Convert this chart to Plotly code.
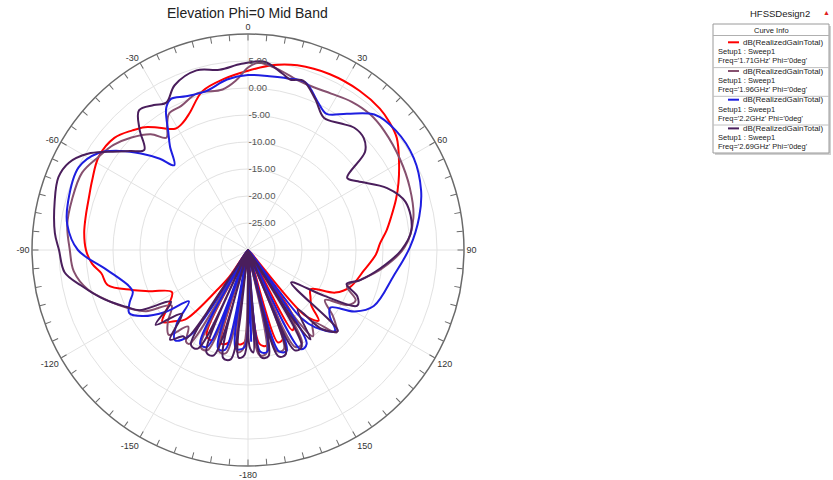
import plotly.graph_objects as go

W, H = 833, 480

title_text = "Elevation Phi=0 Mid Band"
design_name = "HFSSDesign2"

radial_tickvals = [-25, -20, -15, -10, -5, 0, 5]
radial_ticktext = ["-25.00", "-20.00", "-15.00", "-10.00", "-5.00", "0.00", "5.00"]
angle_tickvals = [0, 30, 60, 90, 120, 150, 180, 210, 240, 270, 300, 330]
angle_ticktext = ["0", "30", "60", "90", "120", "150", "-180", "-150", "-120", "-90", "-60", "-30"]
minor_tick_angles = list(range(0, 360, 5))

freq_labels = ["1.71GHz", "1.96GHz", "2.2GHz", "2.69GHz"]
quantity = "dB(RealizedGainTotal)"
setup_label = "Setup1 : Sweep1"
colors = ["#ff0000", "#86506f", "#1e1ee0", "#4a1e5c"]

theta_red = [-180, -178, -174, -170, -168, -164, -160, -158, -154, -150, -145, -143, -138, -134, -130, -125,
             -119, -113, -109, -104, -99, -95, -90, -84, -78, -72, -66, -58, -50, -44, -40, -36, -31, -27,
             -23, -16, -8, 0, 8, 15, 25, 35, 43, 48, 53, 60, 66, 71, 77, 82, 87, 92, 100, 110, 116, 122,
             127, 131, 135, 139, 143, 146, 151, 155, 158, 162, 166, 169, 173, 177, 180]
gain_red = [-30, -13, -12.5, -30, -12.5, -12, -30, -12, -12.5, -30, -24, -21.6, -12.7, -11, -9.3, -12,
            -13.9, -10.5, -7.3, -3.2, -2.5, -1, 0, 0.5, 0.7, 1, 1.6, 2.6, 2.3, 0.8, -0.3, -2, -3.8, -3.5,
            -2.4, 0.6, 2, 3.2, 4.6, 5.4, 5.9, 6.0, 5.8, 5.3, 4.5, 2.3, 0.5, -1, -2.8, -4.1, -5.5, -6.3,
            -8.2, -9.9, -12, -16.3, -15.5, -14.5, -11.5, -14, -30, -15, -13, -30, -12.5, -12, -30, -12,
            -12.5, -30, -30]

theta_mauve = [-180, -177, -174, -171, -168, -164, -161, -158, -154, -151, -148, -146, -142, -137, -132,
               -126, -121, -116, -110, -104, -97, -90, -82, -74, -65, -58, -52, -46, -40, -36, -33, -30,
               -25, -18, -9, -4, 0, 3, 9, 16, 22, 28, 35, 42, 49, 59, 69, 79, 89, 98, 105, 110, 115, 119,
               123, 128, 133, 138, 143, 145, 147, 150, 154, 157, 160, 164, 167, 170, 174, 177, 180]
gain_mauve = [-30, -11.5, -11, -30, -10.5, -10.5, -30, -10, -10, -30, -9.5, -9.5, -12, -8.5, -10, -12.5,
              -8, -5.4, -2.5, 0.5, 2.5, 3, 3.8, 3.9, 3.9, 2.6, 1.6, 0, -2, -4.3, -2.5, -0.8, -0.6, 0.5,
              0.1, 1.5, 3.8, 4.7, 4, 2.8, 2.5, 2.8, 3.5, 3.8, 3.5, 2.8, 2.1, 1.2, -1, -5, -8.5, -10.5, -8,
              -9, -13, -10, -7.6, -12, -10, -14, -30, -10, -10, -30, -10.5, -10.5, -30, -10.5, -10.5, -30,
              -30]

theta_blue = [-180, -178, -173, -169, -167, -163, -159, -157, -153, -149, -146, -141, -136, -131, -127,
              -122, -118, -114, -110, -107, -98, -90, -82, -75, -64, -57, -52, -48, -44, -41, -37, -34,
              -30, -27, -22, -15, -7, 0, 7, 13, 19, 25, 30, 36, 43, 51, 61, 71, 79, 89, 100, 114, 120, 125,
              129, 133, 139, 142, 145, 148, 152, 156, 159, 163, 166, 169, 173, 176, 178, 180]
gain_blue = [-30, -12, -11.6, -30, -11, -11, -30, -10.5, -10.5, -30, -11, -8.5, -11, -15.5, -11, -6.9,
             -5.1, -6, -7.3, -7, -3.6, 1.5, 3.8, 4.5, 4.9, 3, -0.2, -3.3, -6.5, -9.2, -6, -3.6, 0.3, 1.4,
             0.7, 0.4, 1.8, 2.4, 2.4, 2.6, 2.8, 0.4, -0.9, 1.2, 4.3, 5.2, 5.1, 3.9, 2.3, 0, -2.6, -4.5,
             -7.2, -11.4, -10.5, -8, -11, -14, -30, -9.5, -9.2, -30, -10, -10.4, -30, -10.9, -11, -30, -13,
             -30]

theta_dark = [-180, -178, -175, -173, -171, -167, -164, -162, -158, -155, -153, -149, -147, -145, -143,
              -139, -134, -129, -124, -119, -115, -109, -102, -97, -90, -85, -76, -69, -64, -59, -55, -50,
              -46, -42, -38, -33, -29, -24, -16, -9, -2, 5, 11, 14, 18, 24, 30, 36, 41, 46, 50, 54, 58, 66,
              73, 83, 90, 98, 105, 109, 113, 117, 121, 127, 132, 137, 140, 145, 147, 149, 151, 155, 158,
              160, 164, 167, 169, 173, 175, 177, 179, 180]
gain_dark = [-30, -10.5, -10, -30, -9.5, -9.5, -30, -9.5, -9.5, -30, -9.5, -9.5, -30, -10, -10, -8, -13,
             -8, -12.8, -7, -5.1, -1.9, 1.6, 4.2, 5, 5.9, 6.9, 7.6, 6.9, 4.6, 1.7, -1.5, -3.3, 0, 2.8, 2,
             1.2, 3.4, 4.6, 3.8, 4.5, 5, 3.3, 2.5, 3, 0.6, -1.8, -1, 0, -0.2, -1.7, -7.3, -6, -1.8, 0.5,
             0.5, -1.6, -5.3, -8.5, -10.7, -8, -7.3, -13.5, -20, -7.6, -10, -15.7, -9.8, -15, -30, -9.5,
             -9.5, -30, -9.5, -9.5, -30, -10, -10, -30, -11, -12, -30]

series = [
    (theta_red, gain_red),
    (theta_mauve, gain_mauve),
    (theta_blue, gain_blue),
    (theta_dark, gain_dark),
]
for t, g in series:
    assert len(t) == len(g)

FONT = "Liberation Sans, Arial, sans-serif"

# polar placement (pixels)
CX, CY, R = 248, 250, 216
dom_x = [(CX - R) / W, (CX + R) / W]
dom_y = [1 - (CY + R) / H, 1 - (CY - R) / H]


def px(x):
    return x / W


def py(y):
    return 1 - y / H


fig = go.Figure()
for (t, g), c, f in zip(series, colors, freq_labels):
    fig.add_trace(go.Scatterpolar(
        theta=t, r=g, mode="lines", name=f,
        line=dict(color=c, width=2, shape="spline", smoothing=1.0),
        subplot="polar", showlegend=False,
    ))
fig.add_trace(go.Scatterpolar(theta=[], r=[], subplot="polar2", showlegend=False))

fig.update_layout(
    width=W, height=H,
    margin=dict(l=0, r=0, t=0, b=0),
    paper_bgcolor="white",
    font=dict(family=FONT),
    polar=dict(
        domain=dict(x=dom_x, y=dom_y),
        bgcolor="white",
        angularaxis=dict(
            rotation=90, direction="clockwise",
            tickmode="array", tickvals=angle_tickvals, ticktext=angle_ticktext,
            showline=True, linecolor="#6a6a6a", linewidth=1.5,
            showgrid=True, gridcolor="#e2e2e2", gridwidth=1,
            ticks="", tickfont=dict(size=9, color="#333333", family=FONT),
        ),
        radialaxis=dict(
            range=[-30, 10], angle=90, tickangle=90,
            tickmode="array", tickvals=radial_tickvals, ticktext=radial_ticktext,
            showline=False, showgrid=True, gridcolor="#e2e2e2", gridwidth=1,
            ticks="", tickfont=dict(size=9.5, color="#555555", family=FONT),
            side="clockwise",
        ),
    ),
    polar2=dict(
        domain=dict(x=dom_x, y=dom_y),
        bgcolor="rgba(0,0,0,0)",
        angularaxis=dict(
            rotation=90, direction="clockwise",
            tickmode="array", tickvals=minor_tick_angles,
            showticklabels=False, showline=False, showgrid=False,
            ticks="inside", ticklen=6, tickwidth=1, tickcolor="#6a6a6a",
        ),
        radialaxis=dict(visible=False, range=[-30, 10]),
    ),
)

annotations = [
    dict(text=title_text, x=px(CX), y=py(13), xref="paper", yref="paper",
         showarrow=False, xanchor="center", yanchor="middle",
         font=dict(size=14, color="#222222", family=FONT)),
    dict(text=design_name, x=px(780), y=py(13), xref="paper", yref="paper",
         showarrow=False, xanchor="center", yanchor="middle",
         font=dict(size=9.5, color="#222222", family=FONT)),
    dict(text="▲", x=px(826), y=py(12), xref="paper", yref="paper",
         showarrow=False, xanchor="center", yanchor="middle",
         font=dict(size=7, color="#e02020", family=FONT)),
    dict(text="Curve Info", x=px(771), y=py(30), xref="paper", yref="paper",
         showarrow=False, xanchor="center", yanchor="middle",
         font=dict(size=7.5, color="#222222", family=FONT)),
]

shapes = [
    dict(type="rect", xref="paper", yref="paper", x0=px(715), x1=px(831), y0=py(155), y1=py(26),
         line=dict(width=0), fillcolor="#d0d0d0", layer="below"),
    dict(type="rect", xref="paper", yref="paper", x0=px(713), x1=px(829), y0=py(153), y1=py(24),
         line=dict(width=1, color="#9a9a9a"), fillcolor="white", layer="below"),
    dict(type="line", xref="paper", yref="paper", x0=px(713), x1=px(829), y0=py(35.5), y1=py(35.5),
         line=dict(width=1, color="#b0b0b0")),
]

row_h = 28.7
for i, (f, c) in enumerate(zip(freq_labels, colors)):
    y0 = 42.3 + i * row_h
    shapes.append(dict(type="line", xref="paper", yref="paper", x0=px(728), x1=px(739),
                       y0=py(y0), y1=py(y0), line=dict(width=2, color=c)))
    annotations.append(dict(text=quantity, x=px(741), y=py(y0), xref="paper", yref="paper",
                            showarrow=False, xanchor="left", yanchor="middle",
                            font=dict(size=8, color="#222222", family=FONT)))
    annotations.append(dict(text=setup_label, x=px(716), y=py(y0 + 9.5), xref="paper", yref="paper",
                            showarrow=False, xanchor="left", yanchor="middle",
                            font=dict(size=7.5, color="#222222", family=FONT)))
    annotations.append(dict(text="Freq='%s' Phi='0deg'" % f, x=px(716), y=py(y0 + 18.5),
                            xref="paper", yref="paper", showarrow=False, xanchor="left",
                            yanchor="middle", font=dict(size=7.5, color="#222222", family=FONT)))
    if i < 3:
        ys = y0 + 25.3
        shapes.append(dict(type="line", xref="paper", yref="paper", x0=px(713), x1=px(829),
                           y0=py(ys), y1=py(ys), line=dict(width=1, color="#c0c0c0")))

fig.update_layout(annotations=annotations, shapes=shapes)
fig.write_html("out.html", config={"displayModeBar": False},
               post_script="document.body.style.margin='0px';document.body.style.overflow='hidden';")
